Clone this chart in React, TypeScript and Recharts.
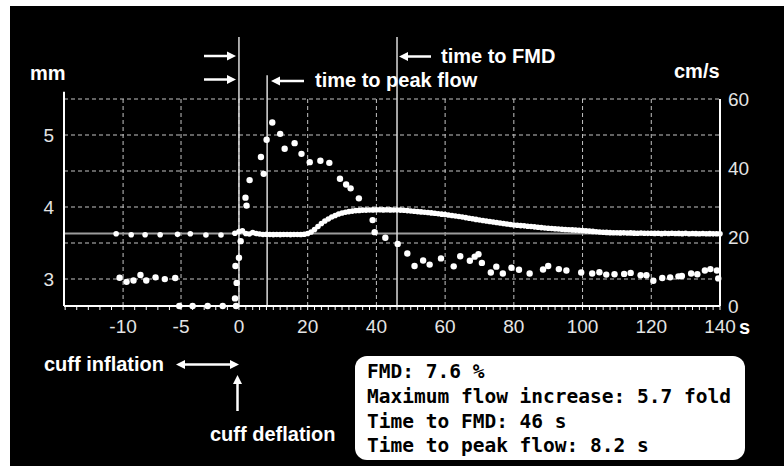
import React from 'react';
import { ComposedChart, Scatter, XAxis, YAxis, ReferenceLine, CartesianGrid } from 'recharts';

// ---- axis configuration (piecewise time axis: pre-deflation seconds are stretched) ----
const PRE_STRETCH = 3.372;
const toU = (t: number) => (t < 0 ? t * PRE_STRETCH : t);
const T_MIN = -15.1;
const T_MAX = 140;

const xTickLabels = [-10, -5, 0, 20, 40, 60, 80, 100, 120, 140];
const gridTimes = [-10, -5, 0, 20, 40, 60, 80, 100, 120];
const minorPre = [-15, -14, -13, -12, -11, -9, -8, -7, -6, -4, -3, -2, -1];
const minorPost = [2, 4, 6, 8, 10, 12, 14, 16, 18, 22, 24, 26, 28, 30, 32, 34, 36, 38, 42, 44, 46, 48, 50, 52, 54, 56, 58, 62, 64, 66, 68, 70, 72, 74, 76, 78, 82, 84, 86, 88, 90, 92, 94, 96, 98, 102, 104, 106, 108, 110, 112, 114, 116, 118, 122, 124, 126, 128, 130, 132, 134, 136, 138];

const mmTicks = [3, 3.5, 4, 4.5, 5, 5.5];
const flowTicks = [0, 20, 40, 60];
const MM_DOMAIN: [number, number] = [2.625, 5.5];
const FLOW_DOMAIN: [number, number] = [0, 60];

const BASELINE_MM = 3.632;
const CUFF_DEFLATION_T = 0;
const PEAK_FLOW_T = 8.2;
const FMD_T = 46;

// ---- flow velocity (cm/s) ----
const flowTime = [
  -10.3, -9.7, -9.1, -8.5, -8.0, -7.2, -6.4, -5.5,
  -5.15, -4.0, -2.7, -1.4, -0.25,
  -0.34, -0.2, -0.3, 0.0, 0.5, 1.9, 2.2, 3.1, 6.4, 7.2, 8.05, 9.7,
  12.0, 13.3, 16.2, 18.2, 20.6, 23.7, 26.3, 29.4, 31.2, 32.5, 34.9,
  38.9, 39.5, 42.6, 46.2, 49.0, 51.1, 53.6, 55.5, 58.8, 62.5, 64.4,
  67.2, 68.6, 69.7, 70.7, 73.3, 74.9, 76.8, 79.3, 81.5, 84.6, 88.5,
  90.0, 93.1, 95.3, 99.6, 102.8, 104.9, 106.9, 109.3, 112.1, 114.0,
  116.9, 118.6, 120.6, 123.2, 125.5, 127.9, 128.9, 131.6, 133.4,
  135.6, 137.2, 139.1, 139.5,
];
const flowValue = [
  8.2, 7.0, 7.4, 9.0, 7.4, 8.3, 7.8, 8.1,
  0, 0, 0, 0, 0,
  2.2, 6.7, 11.6, 14.0, 18.8, 31.4, 29.1, 36.5, 43.2, 38.3, 48.2, 53.2,
  49.9, 45.6, 47.2, 44.1, 41.7, 42.1, 41.5, 36.9, 35.2, 34.1, 31.2,
  24.9, 21.4, 19.8, 18.0, 15.2, 11.6, 13.2, 12.0, 13.8, 11.5, 14.4,
  13.1, 14.3, 15.0, 12.5, 9.7, 11.4, 9.4, 11.1, 10.5, 9.4, 10.6,
  11.6, 10.7, 10.3, 9.7, 9.4, 9.8, 9.1, 9.2, 9.3, 9.6,
  8.9, 8.9, 7.3, 8.1, 8.3, 8.6, 8.7, 9.4, 9.2,
  10.3, 10.7, 10.3, 8.0,
];

// ---- brachial artery diameter (mm) ----
const diamPreTime = [-10.6, -9.3, -8.1, -6.8, -5.3, -4.2, -2.85, -1.55, -0.35];
const diamPreValue = [3.629, 3.615, 3.615, 3.615, 3.620, 3.629, 3.611, 3.611, 3.635];
const diamPostTime = Array.from({ length: 141 }, (_, i) => i);
const diamPostValue = [
  3.660, 3.671, 3.632, 3.625, 3.646, 3.632, 3.625, 3.618, 3.621, 3.618,
  3.617, 3.618, 3.617, 3.618, 3.618, 3.617, 3.618, 3.618, 3.619, 3.622,
  3.632, 3.653, 3.688, 3.729, 3.771, 3.806, 3.833, 3.861, 3.882, 3.903,
  3.917, 3.928, 3.936, 3.943, 3.949, 3.953, 3.956, 3.957, 3.958, 3.960,
  3.961, 3.961, 3.960, 3.961, 3.960, 3.958, 3.958, 3.957, 3.954, 3.950,
  3.944, 3.940, 3.936, 3.932, 3.928, 3.924, 3.918, 3.913, 3.907, 3.901,
  3.896, 3.889, 3.882, 3.875, 3.868, 3.861, 3.853, 3.844, 3.836, 3.828,
  3.819, 3.813, 3.806, 3.799, 3.792, 3.785, 3.778, 3.771, 3.764, 3.757,
  3.750, 3.746, 3.742, 3.738, 3.733, 3.729, 3.724, 3.719, 3.714, 3.708,
  3.704, 3.701, 3.697, 3.694, 3.690, 3.688, 3.685, 3.682, 3.679, 3.676,
  3.674, 3.669, 3.665, 3.661, 3.657, 3.653, 3.650, 3.647, 3.644, 3.643,
  3.642, 3.640, 3.641, 3.638, 3.640, 3.637, 3.636, 3.639, 3.635, 3.634,
  3.636, 3.633, 3.635, 3.630, 3.634, 3.632, 3.635, 3.631, 3.633, 3.630,
  3.634, 3.629, 3.632, 3.630, 3.628, 3.631, 3.629, 3.630, 3.627, 3.629,
  3.628,
];

// ---- derived tables ----
const flowData = flowTime.map((t, i) => ({ u: toU(t), v: flowValue[i] }));
const diamData = [
  ...diamPreTime.map((t, i) => ({ u: toU(t), v: diamPreValue[i] })),
  ...diamPostTime.map((t, i) => ({ u: toU(t), v: diamPostValue[i] })),
];
const majorU = xTickLabels.map(toU);
const allTicksU = Array.from(new Set([...xTickLabels, ...minorPre, ...minorPost].map(toU))).sort((a, b) => a - b);
const xFormatter = (u: number) => {
  const i = majorU.findIndex((m) => Math.abs(m - u) < 1e-6);
  return i >= 0 ? String(xTickLabels[i]) : '';
};

// layout constants (mm units above the plot, for the annotation lines)
const LINE_TOP_HIGH = 6.36;
const LINE_TOP_LOW = 5.83;
const LEFT_AXIS_TOP = 5.6;

const SANS = '"Liberation Sans", Arial, Helvetica, sans-serif';
const MONO = '"DejaVu Sans Mono", "Liberation Mono", monospace';

const dot = (r: number) => (props: any) => (
  <circle cx={props.cx} cy={props.cy} r={r} fill="#ffffff" />
);

const tickStyle = { fill: '#e4e4e4', fontSize: 19, fontFamily: SANS };

function Arrow({ x1, y1, x2, y2 }: { x1: number; y1: number; x2: number; y2: number }) {
  const dx = x2 - x1;
  const dy = y2 - y1;
  const len = Math.sqrt(dx * dx + dy * dy);
  const ux = dx / len;
  const uy = dy / len;
  const hl = 9;
  const hw = 4.5;
  const bx = x2 - ux * hl;
  const by = y2 - uy * hl;
  return (
    <g>
      <line x1={x1} y1={y1} x2={bx} y2={by} stroke="#fff" strokeWidth={2.5} />
      <polygon
        points={`${x2},${y2} ${bx - uy * hw},${by + ux * hw} ${bx + uy * hw},${by - ux * hw}`}
        fill="#fff"
      />
    </g>
  );
}

export default function App() {
  const vline = (t: number, top: number) => (
    <ReferenceLine
      key={`v${t}`}
      xAxisId="x"
      yAxisId="mm"
      ifOverflow="visible"
      segment={[
        { x: toU(t), y: MM_DOMAIN[0] },
        { x: toU(t), y: top },
      ]}
      stroke="#dcdcdc"
      strokeWidth={1.5}
    />
  );
  return (
    <div style={{ position: 'absolute', left: 0, top: 0, width: 784, height: 466, background: '#ffffff' }}>
      <div style={{ position: 'absolute', left: 10, top: 6, width: 774, height: 460, background: '#000000' }} />
      <div style={{ position: 'absolute', left: 0, top: 0 }}>
        <ComposedChart width={784} height={466} margin={{ top: 99, right: 24, bottom: 130, left: 24 }}>
          <CartesianGrid
            xAxisId="x"
            yAxisId="mm"
            vertical={false}
            stroke="#c4c4c4"
            strokeDasharray="4 3"
          />
          {gridTimes.map((t) => (
            <ReferenceLine
              key={`g${t}`}
              xAxisId="x"
              yAxisId="mm"
              x={toU(t)}
              stroke="#c4c4c4"
              strokeDasharray="4 3"
            />
          ))}
          <ReferenceLine xAxisId="x" yAxisId="mm" y={BASELINE_MM} stroke="#9c9c9c" strokeWidth={2} />
          <XAxis
            xAxisId="x"
            type="number"
            dataKey="u"
            domain={[toU(T_MIN), T_MAX]}
            ticks={allTicksU}
            interval={0}
            tickFormatter={xFormatter}
            tick={tickStyle}
            tickLine={{ stroke: '#ffffff' }}
            tickSize={4}
            tickMargin={10}
            axisLine={{ stroke: '#ffffff', strokeWidth: 2 }}
            height={30}
          />
          <YAxis
            yAxisId="mm"
            orientation="left"
            type="number"
            width={40}
            domain={MM_DOMAIN}
            ticks={mmTicks}
            interval={0}
            tickFormatter={(v: number) => (Number.isInteger(v) ? String(v) : '')}
            axisLine={false}
            tickLine={false}
            tickSize={0}
            tickMargin={10}
            tick={tickStyle}
          />
          <YAxis
            yAxisId="flow"
            orientation="right"
            type="number"
            width={40}
            domain={FLOW_DOMAIN}
            ticks={flowTicks}
            interval={0}
            axisLine={{ stroke: '#ffffff', strokeWidth: 2 }}
            tickLine={false}
            tickMargin={2}
            tick={tickStyle}
          />
          <ReferenceLine
            xAxisId="x"
            yAxisId="mm"
            ifOverflow="visible"
            segment={[
              { x: toU(T_MIN), y: MM_DOMAIN[0] },
              { x: toU(T_MIN), y: LEFT_AXIS_TOP },
            ]}
            stroke="#ffffff"
            strokeWidth={2}
          />
          {vline(CUFF_DEFLATION_T, LINE_TOP_HIGH)}
          {vline(PEAK_FLOW_T, LINE_TOP_LOW)}
          {vline(FMD_T, LINE_TOP_HIGH)}
          <Scatter
            xAxisId="x"
            yAxisId="mm"
            data={diamData}
            dataKey="v"
            shape={dot(2.8)}
            isAnimationActive={false}
          />
          <Scatter
            xAxisId="x"
            yAxisId="flow"
            data={flowData}
            dataKey="v"
            shape={dot(3.2)}
            isAnimationActive={false}
          />
        </ComposedChart>
      </div>
      <svg
        width={784}
        height={466}
        style={{ position: 'absolute', left: 0, top: 0, pointerEvents: 'none' }}
      >
        <g fontFamily={SANS} fontWeight="bold" fontSize={20} fill="#ffffff">
          <text x={30} y={80}>mm</text>
          <text x={674} y={78}>cm/s</text>
          <text x={315} y={87}>time to peak flow</text>
          <text x={441} y={63}>time to FMD</text>
          <text x={739} y={334}>s</text>
          <text x={44} y={371}>cuff inflation</text>
          <text x={210} y={441}>cuff deflation</text>
        </g>
        <Arrow x1={204} y1={56} x2={236} y2={56} />
        <Arrow x1={204} y1={79.5} x2={236} y2={79.5} />
        <Arrow x1={304} y1={81} x2={271} y2={81} />
        <Arrow x1={431} y1={56.5} x2={399} y2={56.5} />
        <Arrow x1={207} y1={364.5} x2={176} y2={364.5} />
        <Arrow x1={207} y1={364.5} x2={239} y2={364.5} />
        <Arrow x1={237.5} y1={411} x2={237.5} y2={375} />
        <rect x={355} y={356} width={390} height={104} rx={12} ry={12} fill="#ffffff" />
        <g fontFamily={MONO} fontWeight="bold" fontSize={19.5} fill="#000000">
          <text x={367} y={378}>FMD: 7.6 %</text>
          <text x={367} y={403}>Maximum flow increase: 5.7 fold</text>
          <text x={367} y={428}>Time to FMD: 46 s</text>
          <text x={367} y={452}>Time to peak flow: 8.2 s</text>
        </g>
      </svg>
    </div>
  );
}
